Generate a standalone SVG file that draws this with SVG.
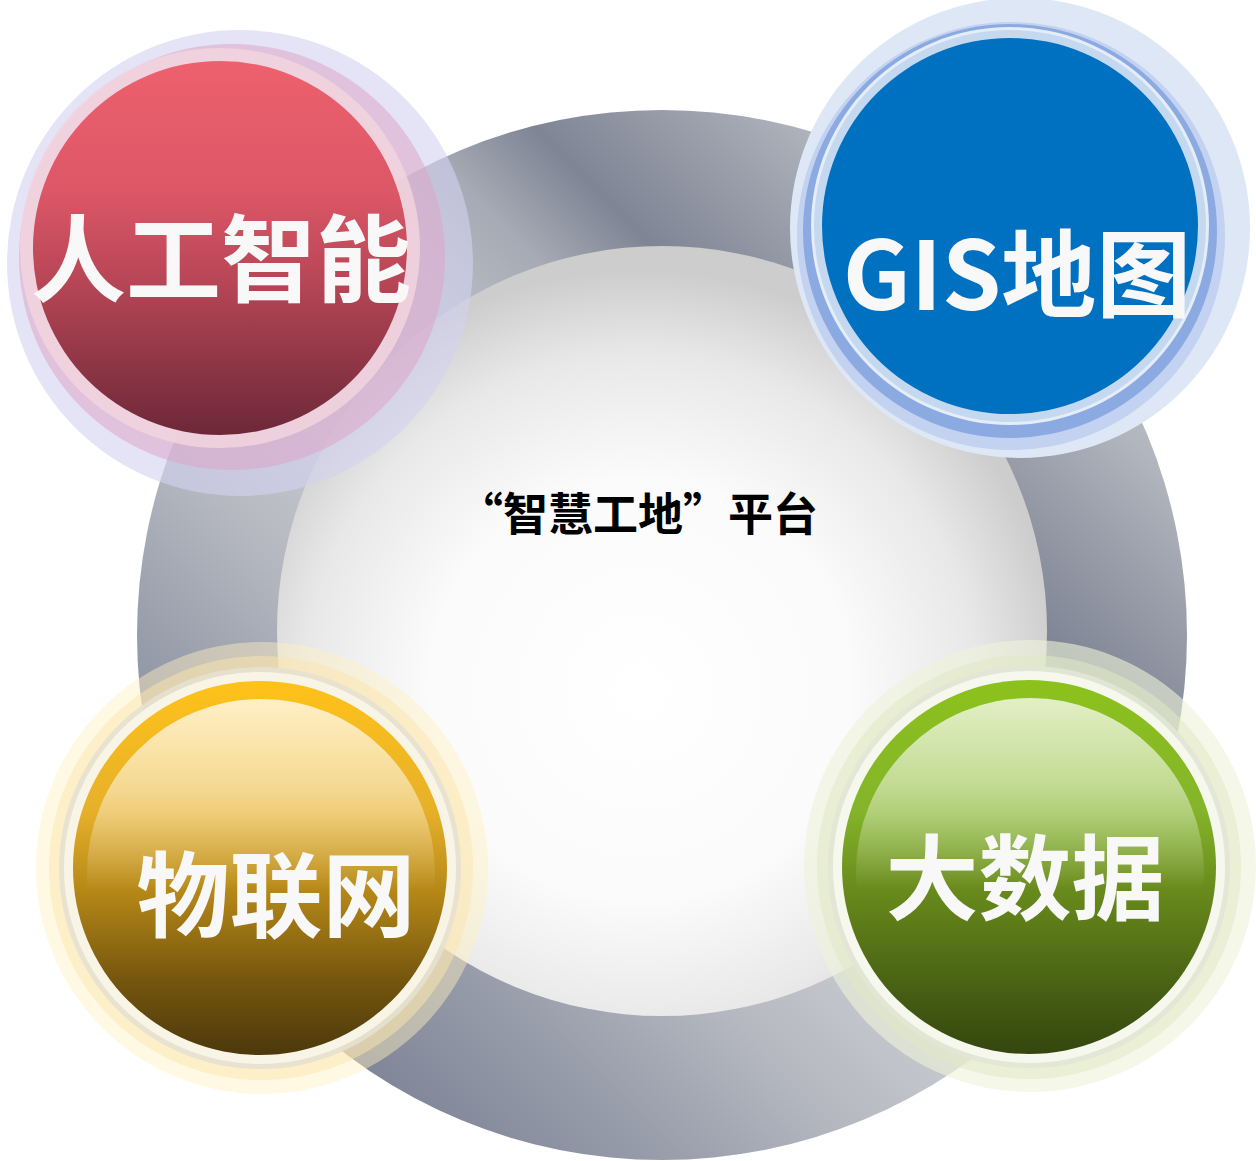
<svg xmlns="http://www.w3.org/2000/svg" width="1256" height="1161" viewBox="0 0 1256 1161">
<style>
.lbl{font-family:"Noto Sans CJK SC","Noto Sans",sans-serif;font-weight:700;fill:#f8f8f8;text-anchor:middle}
.center{font-family:"Noto Sans CJK SC","Noto Sans",sans-serif;font-weight:700;fill:#000000}
</style>
<defs>
<linearGradient id="ringG" gradientUnits="userSpaceOnUse" x1="291" y1="1006" x2="1033" y2="264">
<stop offset="0" stop-color="#7f8597"/>
<stop offset="0.16" stop-color="#9a9fac"/>
<stop offset="0.29" stop-color="#b5b8c0"/>
<stop offset="0.42" stop-color="#c8cad0"/>
<stop offset="0.58" stop-color="#b8bbc3"/>
<stop offset="0.67" stop-color="#a6aab4"/>
<stop offset="0.755" stop-color="#7f8595"/>
<stop offset="0.86" stop-color="#9a9eaa"/>
<stop offset="0.95" stop-color="#b2b6be"/>
<stop offset="1" stop-color="#b8bcc4"/>
</linearGradient>
<radialGradient id="innerG" gradientUnits="userSpaceOnUse" cx="640" cy="690" r="420">
<stop offset="0" stop-color="#ffffff"/>
<stop offset="0.5" stop-color="#fbfbfb"/>
<stop offset="0.8" stop-color="#e8e8e8"/>
<stop offset="1" stop-color="#cdcdcd"/>
</radialGradient>
<linearGradient id="redG" x1="0" y1="0" x2="0" y2="1">
<stop offset="0" stop-color="#ee606d"/>
<stop offset="0.35" stop-color="#dc5767"/>
<stop offset="0.6" stop-color="#b54555"/>
<stop offset="1" stop-color="#6c2838"/>
</linearGradient>
<linearGradient id="yelG" x1="0" y1="0" x2="0" y2="1">
<stop offset="0" stop-color="#ffc21a"/>
<stop offset="0.35" stop-color="#e6b02a"/>
<stop offset="0.55" stop-color="#b88a18"/>
<stop offset="0.8" stop-color="#75560e"/>
<stop offset="1" stop-color="#4c380b"/>
</linearGradient>
<linearGradient id="grnG" x1="0" y1="0" x2="0" y2="1">
<stop offset="0" stop-color="#8cc21c"/>
<stop offset="0.35" stop-color="#84b42a"/>
<stop offset="0.55" stop-color="#6a8c1c"/>
<stop offset="0.8" stop-color="#4a6414"/>
<stop offset="1" stop-color="#34460e"/>
</linearGradient>
<linearGradient id="gloss" x1="0" y1="0" x2="0" y2="1">
<stop offset="0" stop-color="#ffffff" stop-opacity="0.75"/>
<stop offset="0.25" stop-color="#ffffff" stop-opacity="0.5"/>
<stop offset="0.55" stop-color="#ffffff" stop-opacity="0"/>
</linearGradient>
</defs>
<rect x="0" y="0" width="1256" height="1161" fill="#ffffff"/>

<g id="platform">
<circle cx="662" cy="635" r="525" fill="url(#ringG)"/>
<circle cx="662" cy="631" r="385" fill="url(#innerG)"/>
<text class="center" font-size="45" y="531" x="458 503 548 593 638 683 728 773">“智慧工地”平台</text>
</g>

<g id="connectors"/>

<g id="node-ai">
<circle cx="240" cy="263" r="233" fill="#d4d2f2" opacity="0.6"/>
<circle cx="232" cy="257" r="213" fill="#dca6c6" opacity="0.55"/>
<circle cx="220" cy="248" r="200" fill="#f2d4de" opacity="0.85"/>
<circle cx="220" cy="248" r="187" fill="url(#redG)"/>
<text class="lbl" x="221" y="295" font-size="95">人工智能</text>
</g>

<g id="node-gis">
<circle cx="1020" cy="228" r="230" fill="#dde7f5"/>
<circle cx="1011" cy="236" r="214" fill="#c3d2f0"/>
<circle cx="1010" cy="231" r="207" fill="#8caae2"/>
<circle cx="1010" cy="226" r="199" fill="#e4edf8"/>
<circle cx="1010" cy="226" r="196" fill="#c4d9ef"/>
<circle cx="1010" cy="226" r="188" fill="#0070c0"/>
<text class="lbl" x="1017" y="310" font-size="95">GIS地图</text>
</g>

<g id="node-iot">
<circle cx="262" cy="868" r="226" fill="#fff0c0" opacity="0.45"/>
<circle cx="261" cy="868" r="212" fill="#fbe6ad" opacity="0.5"/>
<circle cx="260" cy="868" r="201" fill="#e6e1d0" opacity="0.9"/>
<circle cx="260" cy="868" r="196" fill="#f8f4e6"/>
<circle cx="260" cy="868" r="187" fill="url(#yelG)"/>
<circle cx="261" cy="873" r="174" fill="url(#gloss)"/>
<text class="lbl" x="276" y="930" font-size="93">物联网</text>
</g>

<g id="node-bigdata">
<circle cx="1030" cy="866" r="226" fill="#eef4d8" opacity="0.6"/>
<circle cx="1029" cy="867" r="212" fill="#e0e8c4" opacity="0.55"/>
<circle cx="1029" cy="867" r="201" fill="#e2e6d6" opacity="0.9"/>
<circle cx="1029" cy="867" r="196" fill="#f6f8ee"/>
<circle cx="1029" cy="867" r="187" fill="url(#grnG)"/>
<circle cx="1030" cy="872" r="174" fill="url(#gloss)"/>
<text class="lbl" x="1025" y="913" font-size="93">大数据</text>
</g>
</svg>
